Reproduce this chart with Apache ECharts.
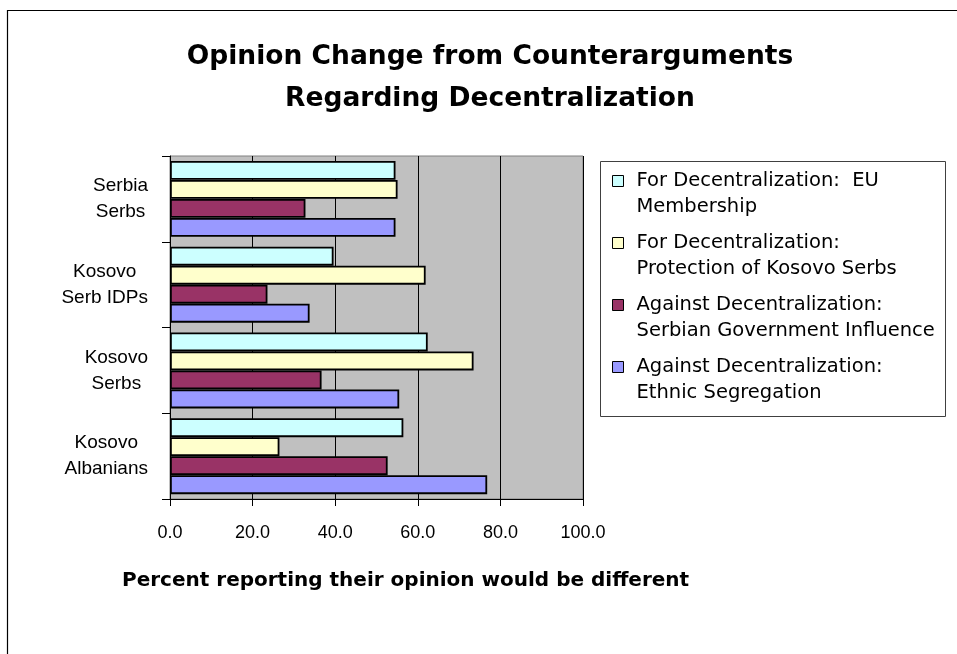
<!DOCTYPE html>
<html>
<head>
<meta charset="utf-8">
<script src="https://cdn.jsdelivr.net/npm/echarts@6/dist/echarts.min.js"></script>
<style>
html,body{margin:0;padding:0;background:#fff;}
#chart{width:957px;height:654px;}
</style>
</head>
<body>
<div id="chart"></div>
<script>
const categories = ['Serbia\nSerbs', 'Kosovo\nSerb IDPs', 'Kosovo\nSerbs', 'Kosovo\nAlbanians'];
const seriesNames = [
  'For Decentralization:  EU\nMembership',
  'For Decentralization:\nProtection of Kosovo Serbs',
  'Against Decentralization:\nSerbian Government Influence',
  'Against Decentralization:\nEthnic Segregation'
];
const euMembership = [54.6, 39.6, 62.4, 56.5];
const protectionSerbs = [55.1, 61.9, 73.5, 26.5];
const serbianGovInfluence = [32.8, 23.6, 36.7, 52.7];
const ethnicSegregation = [54.6, 33.8, 55.5, 76.8];
const xTicks = [0, 20, 40, 60, 80, 100];

const seriesValues = [euMembership, protectionSerbs, serbianGovInfluence, ethnicSegregation];
const colors = ['#CCFFFF', '#FFFFCC', '#993366', '#9999FF'];

const chart = echarts.init(document.getElementById('chart'), null, {renderer: 'canvas'});
const option = {
  animation: false,
  backgroundColor: '#ffffff',
  title: [
    {
      text: 'Opinion Change from Counterarguments\nRegarding Decentralization',
      left: 490, top: 36, padding: 0, textAlign: 'center',
      textStyle: {fontFamily: 'DejaVu Sans', fontWeight: 'bold', fontSize: 26.5, lineHeight: 42, color: '#000'}
    },
    {
      text: 'Percent reporting their opinion would be different',
      left: 122, top: 571, padding: 0,
      textStyle: {fontFamily: 'DejaVu Sans', fontWeight: 'bold', fontSize: 20, color: '#000'}
    }
  ],
  grid: {
    left: 170, right: 374, top: 156, bottom: 155,
    show: true, backgroundColor: '#C0C0C0', borderColor: '#808080', borderWidth: 1
  },
  legend: {
    orient: 'vertical', left: 612, top: 150, padding: 0,
    itemWidth: 11, itemHeight: 11, itemGap: -5, icon: 'rect',
    data: seriesNames,
    formatter: name => '{e| }\n' + name.split('\n').map(s => '{t|' + s + '}').join('\n'),
    textStyle: {
      fontFamily: 'DejaVu Sans', fontSize: 20, color: '#000',
      rich: {
        e: {fontSize: 10, lineHeight: 26},
        t: {fontFamily: 'DejaVu Sans', fontSize: 19.5, lineHeight: 26, color: '#000', padding: [0, 0, 0, 8]}
      }
    },
    itemStyle: {borderColor: '#000', borderWidth: 1}
  },
  xAxis: {
    type: 'value', min: 0, max: 100, interval: 20,
    axisLine: {show: true, lineStyle: {color: '#000', width: 1}},
    axisTick: {show: true, length: 7, lineStyle: {color: '#000'}},
    axisLabel: {
      margin: 25, color: '#000', fontFamily: 'Liberation Sans', fontSize: 18,
      formatter: v => xTicks.includes(v) ? v.toFixed(1) : ''
    },
    splitLine: {show: true, lineStyle: {color: '#000', width: 1}}
  },
  yAxis: {
    type: 'category', data: categories, inverse: true,
    axisLine: {show: true, lineStyle: {color: '#000', width: 1}},
    axisTick: {show: true, length: 8, lineStyle: {color: '#000'}},
    axisLabel: {
      margin: 22, color: '#000', align: 'right',
      formatter: v => v.split('\n').map(s => '{c|' + s + '}').join('\n'),
      rich: {c: {align: 'center', fontFamily: 'Liberation Sans', fontSize: 19, lineHeight: 26, color: '#000'}}
    }
  },
  series: seriesNames.map((name, i) => ({
    name: name, type: 'bar', data: seriesValues[i],
    barWidth: 19, barGap: '0%',
    itemStyle: {color: colors[i], borderColor: '#000', borderWidth: 1.8}
  })),
  graphic: [
    {type: 'rect', shape: {x: 7.5, y: 10.5, width: 1000, height: 1000}, style: {fill: 'none', stroke: '#000', lineWidth: 1.2}, silent: true, z: 100},
    {type: 'rect', shape: {x: 600.5, y: 161.5, width: 345, height: 255}, style: {fill: 'none', stroke: '#404040', lineWidth: 1}, silent: true, z: 100}
  ]
};
chart.setOption(option);
</script>
</body>
</html>
